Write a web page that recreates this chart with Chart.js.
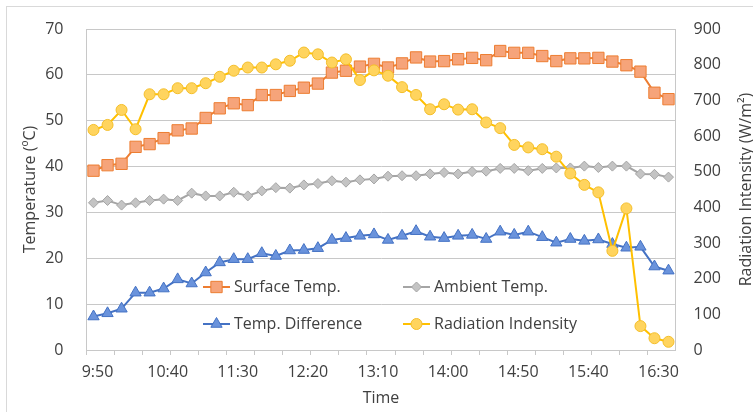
<!DOCTYPE html>
<html>
<head>
<meta charset="utf-8">
<script src="https://cdn.jsdelivr.net/npm/chart.js@4.4.1/dist/chart.umd.min.js"></script>
<style>
  html, body { margin: 0; padding: 0; background: #fff; }
  canvas { display: block; }
</style>
</head>
<body>
<canvas id="myChart" width="753" height="412"></canvas>
<script>
var times = ['9:50', '10:00', '10:10', '10:20', '10:30', '10:40', '10:50', '11:00', '11:10', '11:20',
             '11:30', '11:40', '11:50', '12:00', '12:10', '12:20', '12:30', '12:40', '12:50', '13:00',
             '13:10', '13:20', '13:30', '13:40', '13:50', '14:00', '14:10', '14:20', '14:30', '14:40',
             '14:50', '15:00', '15:10', '15:20', '15:30', '15:40', '15:50', '16:00', '16:10', '16:20',
             '16:30', '16:40'];
var surfaceTemp = [39.1, 40.3, 40.6, 44.3, 44.9, 46.2, 47.9, 48.3, 50.6, 52.7,
                   53.8, 53.4, 55.6, 55.6, 56.5, 57.2, 58.1, 60.5, 60.9, 61.8,
                   62.4, 61.6, 62.5, 63.8, 62.9, 63.0, 63.4, 63.7, 63.2, 65.2,
                   64.8, 64.8, 64.1, 63.0, 63.6, 63.6, 63.7, 62.9, 62.1, 60.7,
                   56.1, 54.7];
var ambientTemp = [32.1, 32.6, 31.6, 32.1, 32.6, 32.9, 32.6, 34.2, 33.6, 33.6,
                   34.4, 33.6, 34.7, 35.4, 35.3, 36.0, 36.3, 36.9, 36.6, 37.1,
                   37.3, 37.9, 38.0, 38.0, 38.4, 38.7, 38.4, 38.9, 39.0, 39.6,
                   39.6, 39.1, 39.6, 39.7, 39.7, 40.1, 39.8, 40.1, 40.1, 38.4,
                   38.3, 37.7];
var tempDifference = [7.3, 8.0, 9.0, 12.5, 12.5, 13.4, 15.4, 14.5, 16.9, 19.1,
                      19.8, 19.8, 21.1, 20.5, 21.7, 21.8, 22.2, 24.0, 24.4, 24.9,
                      25.2, 24.0, 24.9, 25.9, 24.7, 24.4, 24.9, 25.1, 24.2, 25.8,
                      25.1, 25.8, 24.6, 23.4, 24.2, 23.8, 24.1, 23.1, 22.3, 22.5,
                      18.2, 17.3];
var radiation = [617, 631, 673, 619, 717, 717, 734, 734, 748, 766,
                 783, 792, 792, 801, 811, 834, 829, 806, 815, 757,
                 784, 769, 737, 715, 675, 689, 674, 675, 638, 622,
                 575, 568, 563, 542, 495, 463, 442, 278, 397, 67,
                 33, 23];
var tempTicks = [0, 10, 20, 30, 40, 50, 60, 70];
var radiationTicks = [0, 100, 200, 300, 400, 500, 600, 700, 800, 900];

var gridColor = '#c8c8c8';
var textColor = '#404040';
var fontFamily = "'Open Sans', 'Noto Sans', sans-serif";

// frame, legend inside plot area and right-hand title
var extras = {
    id: 'extras',
    beforeDraw: function(chart) {
        var ctx = chart.ctx;
        ctx.save();
        ctx.fillStyle = '#fff';
        ctx.fillRect(0, 0, chart.width, chart.height);
        ctx.strokeStyle = '#d9d9d9';
        ctx.lineWidth = 1;
        ctx.strokeRect(6.5, 6.5, 800, 500);
        ctx.restore();
    },
    afterDraw: function(chart) {
        var ctx = chart.ctx;
        var spots = [[203, 287], [403, 287], [203, 324], [403, 324]];
        ctx.save();
        ctx.font = '16px ' + fontFamily;
        ctx.textBaseline = 'middle';
        chart.data.datasets.forEach(function(ds, i) {
            var x = spots[i][0], y = spots[i][1];
            ctx.strokeStyle = ds.borderColor;
            ctx.lineWidth = 2;
            ctx.beginPath();
            ctx.moveTo(x, y);
            ctx.lineTo(x + 27, y);
            ctx.stroke();
            ctx.fillStyle = ds.pointBackgroundColor;
            ctx.strokeStyle = ds.pointBorderColor;
            ctx.lineWidth = 1;
            Chart.helpers.drawPoint(ctx, {pointStyle: ds.pointStyle, radius: ds.pointRadius, rotation: 0, borderWidth: 1}, x + 13.5, y);
            ctx.fillStyle = textColor;
            ctx.fillText(ds.label, x + 31, y);
        });
        ctx.translate(746, 189.5);
        ctx.rotate(-Math.PI / 2);
        ctx.textAlign = 'center';
        ctx.fillText('Radiation Intensity (W/m\u00b2)', 0, 0);
        ctx.restore();
    }
};

// fixed axis widths, and keep the label padding from pushing the plot down
function fitY(width) {
    return function(s) {
        s.width = width;
        s.paddingTop = 10;
        s.paddingBottom = 10;
    };
}

function createChart() {
    var ctx = document.getElementById('myChart').getContext('2d');
    Chart.defaults.font.family = fontFamily;
    Chart.defaults.font.size = 16;
    Chart.defaults.color = textColor;
    var myChart = new Chart(ctx, {
        type: 'line',
        data: {
            labels: times,
            datasets: [
                {
                    label: 'Surface Temp.',
                    data: surfaceTemp,
                    yAxisID: 'y',
                    borderColor: '#ED7D31',
                    borderWidth: 2,
                    pointStyle: 'rect',
                    pointRadius: 8,
                    pointBackgroundColor: '#F6A47A',
                    pointBorderColor: '#ED7D31',
                    pointBorderWidth: 1,
                    order: 4
                },
                {
                    label: 'Ambient Temp.',
                    data: ambientTemp,
                    yAxisID: 'y',
                    borderColor: '#A5A5A5',
                    borderWidth: 2,
                    pointStyle: 'rectRot',
                    pointRadius: 5,
                    pointBackgroundColor: '#C4C4C4',
                    pointBorderColor: '#A5A5A5',
                    pointBorderWidth: 1,
                    order: 3
                },
                {
                    label: 'Temp. Difference',
                    data: tempDifference,
                    yAxisID: 'y',
                    borderColor: '#4472C4',
                    borderWidth: 2,
                    pointStyle: 'triangle',
                    pointRadius: 6.5,
                    pointBackgroundColor: '#6A93DC',
                    pointBorderColor: '#4472C4',
                    pointBorderWidth: 1,
                    order: 2
                },
                {
                    label: 'Radiation Indensity',
                    data: radiation,
                    yAxisID: 'y1',
                    borderColor: '#FFC000',
                    borderWidth: 2,
                    pointStyle: 'circle',
                    pointRadius: 5.5,
                    pointBackgroundColor: '#FFD45E',
                    pointBorderColor: '#F5BF2A',
                    pointBorderWidth: 1,
                    order: 1
                }
            ]
        },
        options: {
            responsive: false,
            animation: false,
            layout: { padding: { top: 29, left: 0, right: 0, bottom: 0 } },
            plugins: {
                legend: { display: false },
                tooltip: { enabled: false }
            },
            scales: {
                x: {
                    offset: true,
                    afterFit: function(s) { s.height = 62; },
                    grid: {
                        offset: true,
                        drawOnChartArea: false,
                        drawTicks: true,
                        tickLength: 5,
                        color: function(c) { return c.index % 2 === 0 ? gridColor : 'rgba(0,0,0,0)'; }
                    },
                    border: { display: true, color: gridColor },
                    ticks: {
                        autoSkip: false,
                        maxRotation: 0,
                        padding: 8,
                        labelOffset: 4,
                        callback: function(v, i) { return i % 5 === 0 ? this.getLabelForValue(v) : ''; }
                    },
                    title: { display: true, text: 'Time', padding: { top: 0, bottom: 4 } }
                },
                y: {
                    position: 'left',
                    min: tempTicks[0],
                    max: tempTicks[tempTicks.length - 1],
                    afterFit: fitY(86.5),
                    ticks: { stepSize: tempTicks[1] - tempTicks[0], padding: 23 },
                    grid: { color: gridColor, drawTicks: false },
                    border: { display: true, color: gridColor },
                    title: { display: true, text: 'Temperature (\u00baC)', padding: { top: 21, bottom: 0 } }
                },
                y1: {
                    position: 'right',
                    min: radiationTicks[0],
                    max: radiationTicks[radiationTicks.length - 1],
                    afterFit: fitY(77.5),
                    ticks: { stepSize: radiationTicks[1] - radiationTicks[0], padding: 18 },
                    grid: { drawOnChartArea: false, drawTicks: false },
                    border: { display: true, color: gridColor }
                }
            }
        },
        plugins: [extras]
    });
    return myChart;
}

createChart();
</script>
</body>
</html>
